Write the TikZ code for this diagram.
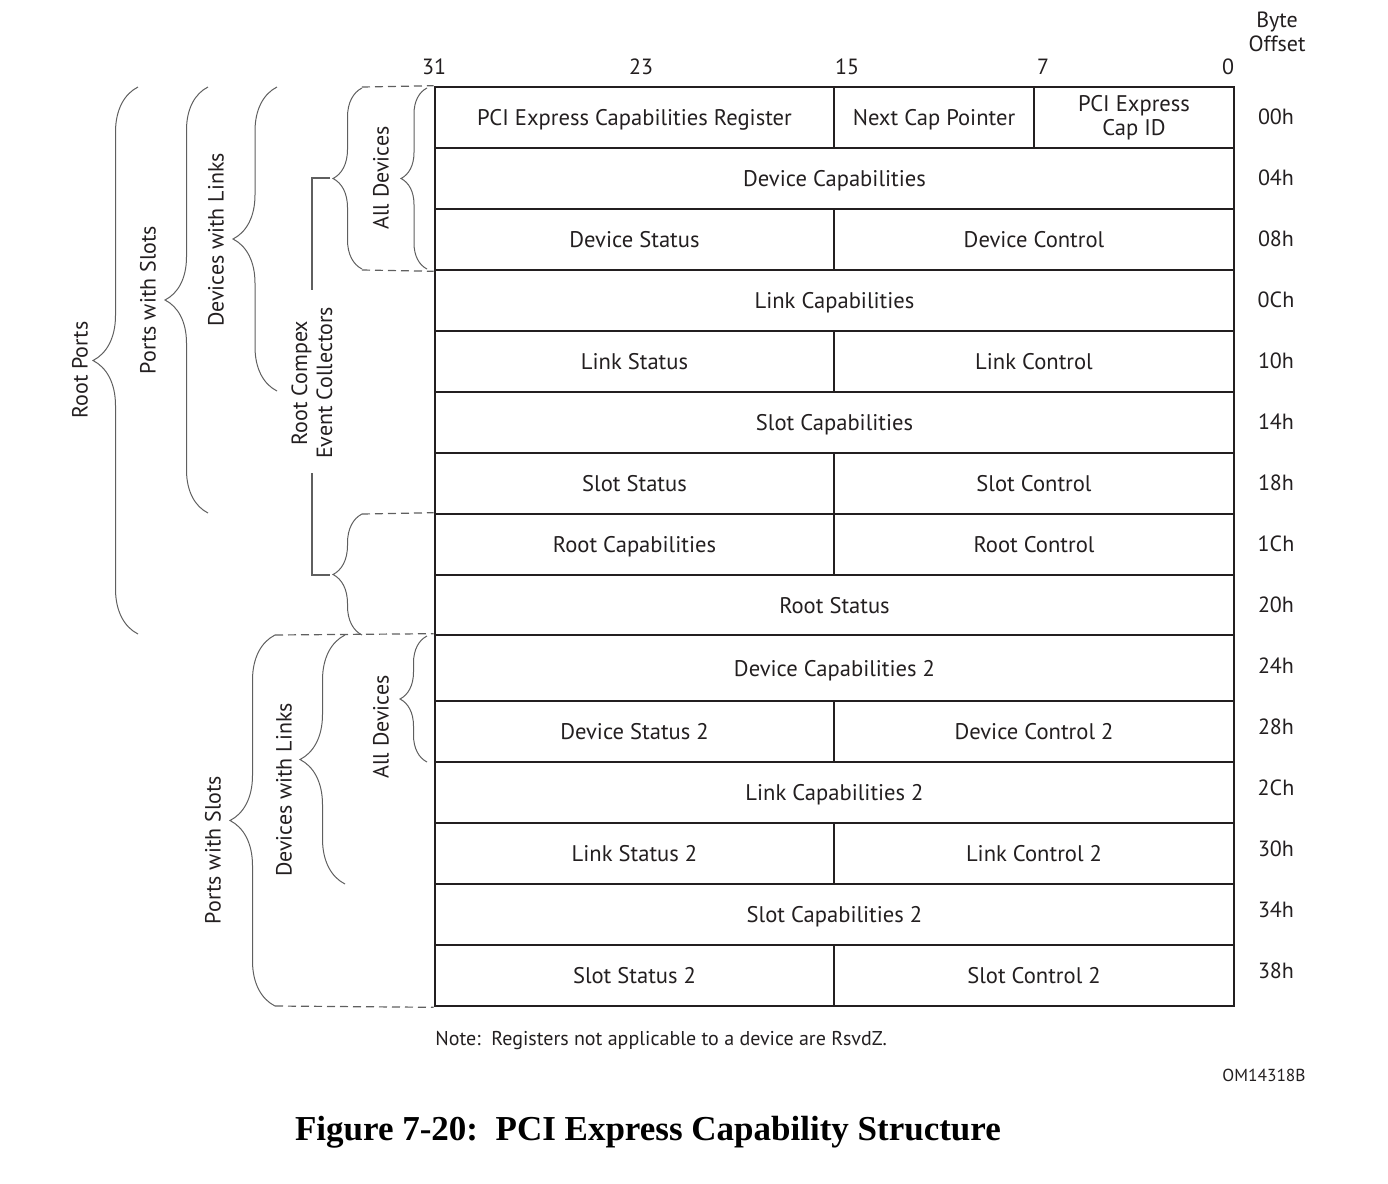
\documentclass[tikz,border=0pt]{standalone}
\usepackage{fontspec}
\setmainfont{PT Sans}
\newfontfamily\capfont{Liberation Serif}
\usetikzlibrary{decorations.pathreplacing}
\definecolor{ink}{RGB}{35,31,32}
\definecolor{bgray}{RGB}{95,95,95}
\begin{document}
\begin{tikzpicture}[x=0.5pt,y=-0.5pt,
  cellbase/.style={draw=ink, line width=1.3pt, inner sep=0pt, text=ink, font=\fontsize{11.3}{13}\selectfont, align=center, minimum height=30.5pt},
  cell/.style={cellbase, text height=11pt, text depth=2.6pt},
  full/.style={cell, minimum width=399.5pt},
  halfl/.style={cell, minimum width=199.5pt},
  halfr/.style={cell, minimum width=200pt},
  qtr/.style={cell, minimum width=100pt},
  lbl/.style={text=ink, font=\fontsize{11}{13}\selectfont, align=center, inner sep=0pt},
  vlbl/.style={lbl, rotate=90},
  curly/.style={draw=bgray, line width=0.5pt, decorate, decoration={brace, amplitude=#1}},
  dsh/.style={draw=bgray, line width=0.6pt, dash pattern=on 4pt off 2.5pt},
  conn/.style={draw=bgray, line width=0.6pt},
]
\useasboundingbox (0,0) rectangle (1388,1184);

% bit numbers
\node[lbl] (b31) at (434,67) {31};
\node[lbl] (b23) at (641,67) {23};
\node[lbl] (b15) at (847,67) {15};
\node[lbl] (b7) at (1043,67) {7};
\node[lbl] (b0) at (1228,67) {0};
\node[lbl] (bo) at (1277,32) {Byte\\[-1pt]Offset};

% table cells
\node[halfl] (c0a) at (634.5,117.5) {PCI Express Capabilities Register};
\node[qtr] (c0b) at (934,117.5) {Next Cap Pointer};
\node[cellbase, minimum width=100pt] (c0c) at (1134,117.5) {PCI Express\\[-1pt]Cap ID};
\node[full] (c1) at (834.5,178.5) {Device Capabilities};
\node[halfl] (c2a) at (634.5,239.5) {Device Status};
\node[halfr] (c2b) at (1034,239.5) {Device Control};
\node[full] (c3) at (834.5,300.5) {Link Capabilities};
\node[halfl] (c4a) at (634.5,361.5) {Link Status};
\node[halfr] (c4b) at (1034,361.5) {Link Control};
\node[full] (c5) at (834.5,422.5) {Slot Capabilities};
\node[halfl] (c6a) at (634.5,483.5) {Slot Status};
\node[halfr] (c6b) at (1034,483.5) {Slot Control};
\node[halfl] (c7a) at (634.5,544.5) {Root Capabilities};
\node[halfr] (c7b) at (1034,544.5) {Root Control};
\node[full, minimum height=30pt] (c8) at (834.5,605) {Root Status};
\node[full, minimum height=33pt] (c9) at (834.5,668) {Device Capabilities 2};
\node[halfl] (c10a) at (634.5,731.5) {Device Status 2};
\node[halfr] (c10b) at (1034,731.5) {Device Control 2};
\node[full] (c11) at (834.5,792.5) {Link Capabilities 2};
\node[halfl] (c12a) at (634.5,853.5) {Link Status 2};
\node[halfr] (c12b) at (1034,853.5) {Link Control 2};
\node[full] (c13) at (834.5,914.5) {Slot Capabilities 2};
\node[halfl] (c14a) at (634.5,975.5) {Slot Status 2};
\node[halfr] (c14b) at (1034,975.5) {Slot Control 2};

% byte offsets
\node[lbl] (o00) at (1276,117) {00h};
\node[lbl] (o04) at (1276,178) {04h};
\node[lbl] (o08) at (1276,239) {08h};
\node[lbl] (o0C) at (1276,300) {0Ch};
\node[lbl] (o10) at (1276,361) {10h};
\node[lbl] (o14) at (1276,422) {14h};
\node[lbl] (o18) at (1276,483) {18h};
\node[lbl] (o1C) at (1276,544) {1Ch};
\node[lbl] (o20) at (1276,605) {20h};
\node[lbl] (o24) at (1276,666) {24h};
\node[lbl] (o28) at (1276,727) {28h};
\node[lbl] (o2C) at (1276,788) {2Ch};
\node[lbl] (o30) at (1276,849) {30h};
\node[lbl] (o34) at (1276,910) {34h};
\node[lbl] (o38) at (1276,971) {38h};

% braces, upper group
\draw[curly=22.5pt] (138,634) -- (138,87);
\draw[curly=21.5pt] (208,513) -- (208,87);
\draw[curly=22pt] (277,391) -- (277,87);
\draw[curly=14.5pt] (362,269) -- (362,88);
\draw[curly=13pt] (427,269) -- (427,88);
\draw[curly=14.5pt] (362,635) -- (362,514);
% braces, lower group
\draw[curly=22.5pt] (275,1006) -- (275,635);
\draw[curly=22.5pt] (345,884) -- (345,635);
\draw[curly=13.5pt] (427,762) -- (427,636);

% dashed guides
\draw[dsh] (362,87) -- (c0a.north west);
\draw[dsh] (362,270) -- (c2a.south west);
\draw[dsh] (362,514) -- (c7a.north west);
\draw[dsh] (275,635) -- (c9.north west);
\draw[dsh] (275,1006) -- (c14a.south west);

% labels
\node[vlbl] (rp) at (80,370) {Root Ports};
\node[vlbl] (pws1) at (148,300) {Ports with Slots};
\node[vlbl] (dwl1) at (216,240) {Devices with Links};
\node[vlbl] (ad1) at (381,178) {All Devices};
\node[vlbl] (rcec) at (312,383) {Root Compex\\[-0.5pt]Event Collectors};
\node[vlbl] (pws2) at (213,850) {Ports with Slots};
\node[vlbl] (dwl2) at (284,790) {Devices with Links};
\node[vlbl] (ad2) at (381,727) {All Devices};

% RCEC connector
\coordinate (rtop) at (330,178);
\coordinate (rbot) at (330,575);
\coordinate (rv1) at (312,290);
\coordinate (rv2) at (312,473);
\draw[conn] (rtop) -| (rv1);
\draw[conn] (rv2) |- (rbot);

% notes
\node[lbl, anchor=west, font=\fontsize{10}{12}\selectfont] (note) at (435,1040) {Note:\ \ Registers not applicable to a device are RsvdZ.};
\node[lbl, font=\fontsize{8.7}{10}\selectfont] (om) at (1264,1075) {OM14318B};
\node[lbl, font=\capfont\bfseries\fontsize{17.5}{20}\selectfont, text=black] (cap) at (648,1132) {Figure 7-20:\ \ PCI Express Capability Structure};
\end{tikzpicture}
\end{document}
